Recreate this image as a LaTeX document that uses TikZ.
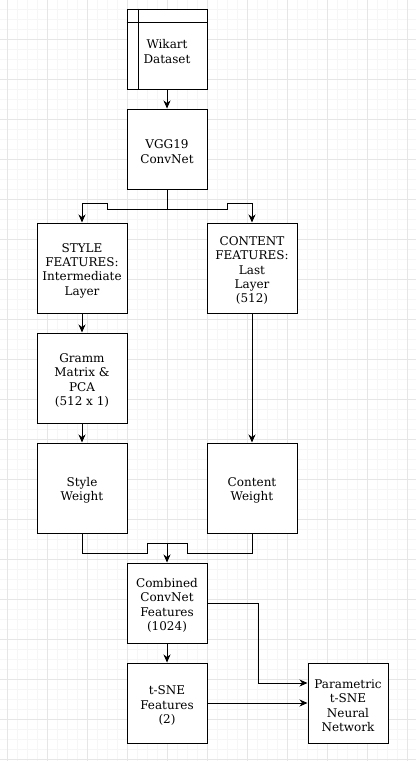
\documentclass[tikz,border=0pt]{standalone}
\usepackage{fontspec}
\setmainfont{DejaVu Serif}
\usetikzlibrary{arrows.meta}
\newcommand\topstrut{\rule{0pt}{14pt}}
\begin{document}
\begin{tikzpicture}[x=1pt,y=-1pt,
  box/.style={draw=black,line width=1pt,fill=white,minimum width=80pt,minimum height=80pt,align=center,inner sep=0pt,font=\fontsize{12}{14.4}\selectfont},
  bigbox/.style={box,minimum width=90pt,minimum height=90pt},
  conn/.style={line width=1pt,draw=black},
  arr/.style={conn,-{Stealth[length=8pt,width=7pt,inset=2.5pt]}},
  minorgrid/.style={draw={rgb,255:red,246;green,246;blue,246},line width=0.8pt},
  majorgrid/.style={draw={rgb,255:red,230;green,230;blue,230},line width=1pt}]
\useasboundingbox (0,0) rectangle (416,761);
\fill[white] (0,0) rectangle (416,761);
\foreach \x in {7,17,...,407} \draw[minorgrid] (\x,0) -- (\x,761);
\foreach \y in {9,19,...,759} \draw[minorgrid] (0,\y) -- (416,\y);
\foreach \x in {7,47,...,407} \draw[majorgrid] (\x,0) -- (\x,761);
\foreach \y in {39,79,...,759} \draw[majorgrid] (0,\y) -- (416,\y);

\node[box] (wik) at (167,49) {\topstrut Wikart\\Dataset};
\draw[conn] ([xshift=12pt]wik.north west) -- ([xshift=12pt]wik.south west);
\draw[conn] ([yshift=-14pt]wik.north west) -- ([yshift=-14pt]wik.north east);
\node[box] (vgg) at (167,149) {\topstrut VGG19\\ConvNet};
\node[bigbox] (style) at (82,268) {\topstrut STYLE\\FEATURES:\\Intermediate\\Layer};
\node[bigbox] (content) at (252,268) {\topstrut CONTENT\\FEATURES:\\Last\\Layer\\(512)};
\node[bigbox] (gramm) at (82,378) {\topstrut Gramm\\Matrix \&\\PCA\\(512 x 1)};
\node[bigbox] (sweight) at (82,488) {\topstrut Style\\Weight};
\node[bigbox] (cweight) at (252,488) {\topstrut Content\\Weight};
\node[box] (comb) at (167,603) {\topstrut Combined\\ConvNet\\Features\\(1024)};
\node[box] (tsne) at (167,703) {\topstrut t-SNE\\Features\\(2)};
\node[box] (param) at (348,703) {\topstrut Parametric\\t-SNE\\Neural\\Network};

\draw[arr] (wik) -- (vgg);
\draw[arr] (vgg.south) |- (107,209) -- (107,203) -| (style.north);
\draw[arr] (vgg.south) |- (227,209) -- (227,203) -| (content.north);
\draw[arr] (style) -- (gramm);
\draw[arr] (gramm) -- (sweight);
\draw[arr] (content) -- (cweight);
\draw[conn] (sweight.south) |- (147,553) |- (167,543);
\draw[conn] (cweight.south) |- (187,553) |- (167,543);
\draw[arr] (167,543) -- (comb.north);
\draw[arr] (comb) -- (tsne);
\draw[arr] (comb.east) -- (258,603) |- ([yshift=20pt]param.west);
\draw[arr] (tsne) -- (param);
\end{tikzpicture}
\end{document}
